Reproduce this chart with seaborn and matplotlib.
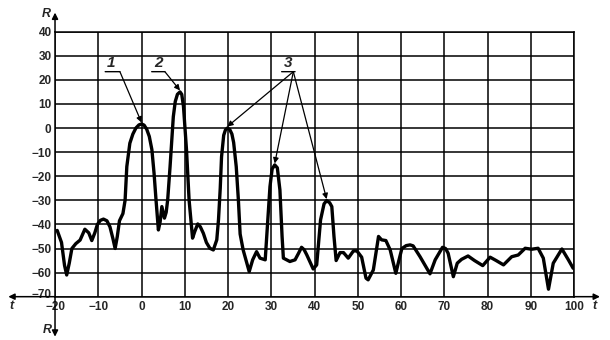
import numpy as np
import pandas as pd
import matplotlib
matplotlib.use("Agg")
import matplotlib.pyplot as plt
import matplotlib.transforms as mtransforms
import seaborn as sns

# ---- data ----
t_values = [
    -19.5, -18.5, -17.8, -17.3, -16.7, -16.1, -15.2, -14.2, -13.1, -12.2,
    -11.5, -10.8, -10.2, -9.5, -8.8, -8.0, -7.3, -6.6, -6.1, -5.6,
    -5.1, -4.3, -3.8, -3.4, -2.7, -2.0, -1.3, -0.6, 0.0, 0.6,
    1.2, 1.8, 2.4, 2.9, 3.35, 3.9, 4.3, 4.7, 5.3, 5.7,
    6.05, 6.6, 7.35, 7.8, 8.3, 8.9, 9.3, 9.7, 10.4, 11.0,
    11.8, 12.3, 13.0, 13.6, 14.3, 15.0, 15.8, 16.6, 17.4, 17.8,
    18.2, 18.5, 19.0, 19.4, 19.85, 20.4, 20.9, 21.3, 21.9, 22.4,
    22.8, 23.5, 24.9, 25.7, 26.6, 27.4, 28.6, 28.95, 29.4, 29.7,
    30.2, 30.8, 31.4, 32.0, 32.5, 32.8, 34.3, 35.5, 36.3, 37.0,
    37.6, 38.2, 39.7, 40.5, 41.4, 42.2, 42.8, 43.5, 44.0, 44.5,
    45.0, 45.9, 46.7, 47.8, 49.0, 49.8, 50.9, 51.9, 52.4, 53.6,
    54.8, 55.5, 56.5, 57.5, 58.8, 59.5, 60.2, 61.2, 62.1, 62.8,
    64.4, 66.7, 67.9, 69.6, 70.3, 70.9, 72.1, 73.0, 74.0, 75.5,
    77.0, 78.9, 80.6, 82.0, 83.7, 85.6, 87.1, 88.7, 90.2, 91.7,
    92.9, 94.1, 95.2, 97.2, 98.7, 99.8,
]
r_values = [
    -42.5, -47.5, -57.0, -61.0, -56.0, -50.0, -48.0, -46.5, -42.0, -43.5,
    -46.7, -43.5, -40.0, -38.3, -37.8, -38.5, -41.0, -46.0, -50.0, -45.0,
    -38.5, -35.5, -30.0, -16.0, -6.3, -2.5, 0.0, 1.3, 1.7, 1.2,
    -0.5, -3.5, -9.0, -18.8, -29.8, -42.3, -39.0, -32.6, -37.4, -35.0,
    -29.8, -16.0, 4.7, 11.0, 14.0, 15.0, 14.0, 9.0, -9.0, -29.9,
    -45.7, -43.0, -39.8, -41.0, -43.7, -47.5, -49.9, -50.6, -46.4, -38.0,
    -25.0, -12.0, -3.0, -0.8, 0.0, -0.6, -2.5, -6.0, -16.0, -30.0,
    -44.0, -50.6, -59.6, -54.7, -51.3, -54.0, -54.7, -45.0, -33.0, -24.3,
    -17.0, -15.3, -16.5, -25.7, -45.0, -54.0, -55.4, -54.7, -52.0, -49.5,
    -50.5, -52.6, -58.5, -56.8, -38.1, -31.5, -30.1, -31.0, -32.6, -45.0,
    -55.0, -51.7, -51.7, -54.0, -51.0, -51.0, -53.6, -62.3, -63.0, -58.9,
    -45.0, -46.4, -46.7, -50.6, -60.3, -55.0, -50.0, -48.8, -48.5, -48.9,
    -53.4, -60.5, -54.7, -49.5, -50.0, -52.0, -61.7, -56.1, -54.5, -53.1,
    -55.0, -57.1, -53.6, -55.0, -56.8, -53.4, -52.7, -49.9, -50.3, -49.9,
    -54.0, -66.9, -56.1, -50.2, -54.7, -58.2,
]
x_ticks = [-20, -10, 0, 10, 20, 30, 40, 50, 60, 70, 80, 90, 100]
y_ticks = [-70, -60, -50, -40, -30, -20, -10, 0, 10, 20, 30, 40]
callout_labels = ["1", "2", "3"]
callout_peaks = [[(0.0, 1.7)], [(8.9, 15.0)], [(19.85, 0.0), (30.8, -15.3), (42.8, -30.1)]]

# ---- figure ----
sns.set_theme(style="white")
plt.rcParams["font.family"] = ["Liberation Sans", "DejaVu Sans"]

fig = plt.figure(figsize=(6.1, 3.4), dpi=100)
ax = fig.add_axes([0.0902, 0.1274, 0.8508, 0.7794])

df = pd.DataFrame({"t": t_values, "R": r_values})
sns.lineplot(data=df, x="t", y="R", ax=ax, color="black", lw=2.4,
             estimator=None, sort=False)

ax.set_xlim(x_ticks[0], x_ticks[-1])
ax.set_ylim(y_ticks[0], y_ticks[-1])
ax.set_xticks(x_ticks)
ax.set_yticks(y_ticks)
ax.set_xticklabels([str(v).replace("-", "\u2212") for v in x_ticks],
                   fontsize=8.5, fontweight="bold")
ax.set_yticklabels([str(v).replace("-", "\u2212") for v in y_ticks],
                   fontsize=8.5, fontweight="bold")
ax.tick_params(length=0)
ax.tick_params(axis="x", pad=3)
ax.tick_params(axis="y", pad=2.5)
# lift the lowest y label a little so it clears the -20 x label (as in the reference)
lift = mtransforms.ScaledTranslation(0, 3 / 100, fig.dpi_scale_trans)
ylabs = ax.get_yticklabels()
ylabs[0].set_transform(ylabs[0].get_transform() + lift)
ax.grid(True, color="black", lw=1.1)
ax.set_axisbelow(True)
for s in ax.spines.values():
    s.set_color("black")
    s.set_linewidth(1.1)
ax.set_xlabel("")
ax.set_ylabel("")

# axis arrows extending beyond the frame
arrow_kw = dict(arrowstyle="-|>", color="black", lw=1.1,
                mutation_scale=9, shrinkA=0, shrinkB=0)
ax.annotate("", xy=(-0.09, 0), xytext=(0, 0), xycoords="axes fraction",
            textcoords="axes fraction", arrowprops=arrow_kw, annotation_clip=False)
ax.annotate("", xy=(1.05, 0), xytext=(1, 0), xycoords="axes fraction",
            textcoords="axes fraction", arrowprops=arrow_kw, annotation_clip=False)
ax.annotate("", xy=(0, 1.072), xytext=(0, 1), xycoords="axes fraction",
            textcoords="axes fraction", arrowprops=arrow_kw, annotation_clip=False)
ax.annotate("", xy=(0, -0.151), xytext=(0, 0), xycoords="axes fraction",
            textcoords="axes fraction", arrowprops=arrow_kw, annotation_clip=False)
ax_lbl = dict(fontsize=9, fontstyle="italic", fontweight="bold",
              transform=ax.transAxes)
ax.text(-0.016, 1.067, "R", ha="center", va="center", **ax_lbl)
ax.text(-0.015, -0.126, "R", ha="center", va="center", **ax_lbl)
ax.text(-0.083, -0.035, "t", ha="center", va="center", **ax_lbl)
ax.text(1.04, -0.035, "t", ha="center", va="center", **ax_lbl)

# numbered callouts with underlined labels: (text x, underline left, underline right, y)
label_pos = [(-7.0, -8.4, -5.0, 23.4), (4.0, 2.35, 5.4, 23.4), (34.0, 32.4, 35.5, 23.4)]
arrow_start = [-5.0, 5.4, 35.1]
for lbl, (tx, u0, u1, ly), ax0, peaks in zip(callout_labels, label_pos,
                                             arrow_start, callout_peaks):
    ax.text(tx, ly + 0.6, lbl, ha="center", va="bottom", fontsize=11,
            fontstyle="italic", fontweight="bold")
    ax.annotate("", xy=(u1, ly), xytext=(u0, ly),
                arrowprops=dict(arrowstyle="-", color="black", lw=1.0,
                                shrinkA=0, shrinkB=0))
    for px, py in peaks:
        ax.annotate("", xy=(px, py + 0.6), xytext=(ax0, ly),
                    arrowprops=dict(arrowstyle="-|>", color="black", lw=0.9,
                                    mutation_scale=8, shrinkA=0, shrinkB=0))

fig.savefig("out.png", dpi=100, facecolor="white")
